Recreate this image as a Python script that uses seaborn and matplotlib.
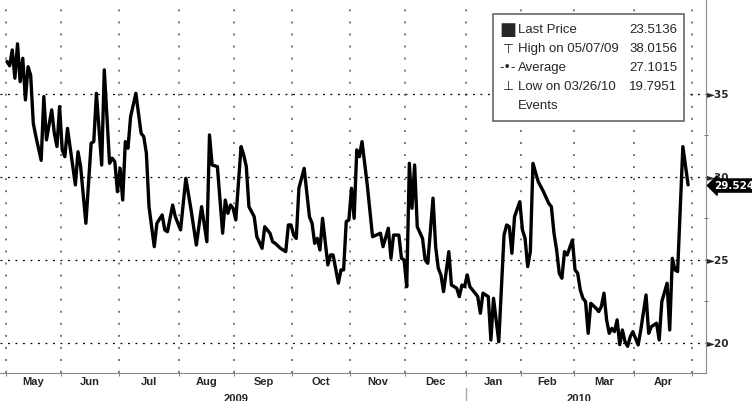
import numpy as np
import matplotlib
matplotlib.use("Agg")
import matplotlib.pyplot as plt
import matplotlib.transforms as mtransforms
from matplotlib.patches import Rectangle
from matplotlib.ticker import FixedLocator, NullFormatter
import pandas as pd
import seaborn as sns

day = [0, 1, 2, 3, 4, 5, 6, 7, 8, 9, 10, 11, 13, 14, 15, 17, 18, 19, 20, 21,
       22, 23, 26, 27, 28, 30, 32, 33, 34, 36, 37, 39, 40, 41, 42, 43, 44, 45,
       46, 47, 49, 51, 52, 53, 54, 56, 57, 59, 60, 61, 63, 64, 66, 68, 70, 72,
       74, 76, 77, 78, 80, 82, 83, 84, 85, 86, 87, 89, 90, 91, 92, 94, 95, 97,
       98, 100, 101, 102, 104, 105, 106, 107, 108, 109, 110, 111, 113, 115,
       116, 117, 118, 119, 120, 122, 123, 124, 126, 127, 128, 129, 130, 131,
       132, 133, 134, 135, 137, 139, 142, 143, 145, 146, 147, 149, 150, 151,
       152, 153, 154, 155, 156, 158, 159, 160, 162, 163, 164, 165, 166, 168,
       169, 171, 172, 173, 174, 175, 176, 178, 179, 180, 181, 183, 184, 185,
       187, 189, 190, 191, 192, 193, 195, 196, 197, 198, 199, 200, 202, 204,
       206, 207, 208, 209, 210, 211, 212, 213, 215, 216, 217, 218, 219, 220,
       221, 222, 224, 225, 226, 227, 228, 229, 230, 231, 232, 233, 234, 235,
       236, 237, 238, 240, 241, 243, 244, 245, 247, 248, 249, 251, 252, 253,
       254, 255, 257, 259]
price = [36.95, 36.70, 37.65, 35.95, 38.02, 35.74, 37.15, 34.64, 36.64, 36.14,
         33.23, 32.43, 31.00, 34.84, 32.23, 34.04, 32.63, 31.83, 34.24, 31.63,
         31.22, 32.93, 29.52, 31.52, 30.62, 27.21, 32.03, 32.13, 35.04, 30.72,
         36.45, 30.82, 31.13, 30.92, 29.11, 30.52, 28.61, 32.13, 31.73, 33.63,
         35.04, 32.63, 32.43, 31.43, 28.21, 25.80, 27.21, 27.71, 26.81, 26.70,
         28.31, 27.61, 26.81, 29.92, 28.01, 25.90, 28.21, 26.10, 32.53, 30.72,
         30.62, 26.61, 28.61, 27.81, 28.31, 28.11, 27.41, 31.83, 31.33, 30.62,
         28.21, 27.61, 26.40, 25.70, 27.00, 26.61, 26.10, 26.00, 25.70, 25.60,
         25.50, 27.11, 27.11, 26.50, 26.30, 29.32, 30.52, 27.61, 27.21, 26.00,
         26.30, 25.60, 27.51, 24.70, 25.30, 25.30, 23.60, 24.40, 24.40, 27.31,
         27.41, 29.32, 27.51, 31.63, 31.22, 32.13, 29.52, 26.40, 26.61, 25.80,
         26.91, 25.10, 26.50, 26.50, 25.10, 25.00, 23.39, 30.82, 28.11, 30.72,
         27.00, 26.30, 25.00, 24.80, 28.72, 25.80, 24.50, 24.10, 23.09, 25.50,
         23.49, 23.30, 22.79, 23.49, 23.39, 24.10, 23.39, 23.00, 22.79, 21.79,
         23.00, 22.79, 20.18, 22.69, 20.08, 26.50, 27.11, 27.00, 25.40, 27.61,
         28.51, 26.81, 26.30, 24.60, 25.50, 30.82, 29.72, 29.11, 28.41, 28.21,
         26.61, 25.60, 24.20, 23.90, 25.50, 25.30, 26.20, 24.40, 24.20, 23.19,
         22.69, 22.49, 20.58, 22.39, 22.09, 21.89, 22.19, 23.00, 21.39, 20.58,
         20.88, 20.68, 21.39, 19.90, 20.78, 20.08, 19.80, 20.38, 20.68, 19.88,
         20.78, 22.89, 20.58, 20.98, 21.19, 20.18, 22.49, 23.60, 20.78, 25.10,
         24.40, 24.30, 31.83, 29.5246]

last_price = 29.5246
legend_rows = [
    ("\u25A0", "Last Price", "23.5136"),
    ("\u22A4", "High on 05/07/09", "38.0156"),
    ("-\u2022-", "Average", "27.1015"),
    ("\u22A5", "Low on 03/26/10", "19.7951"),
    ("", "Events", ""),
]
y_ticks = [20, 25, 30, 35]
y_minor = [22.5, 27.5, 32.5]

df = pd.DataFrame({"day": day, "price": price})

# month boundaries in trading-day units
bdays = pd.bdate_range("2009-05-01", "2010-05-31")
months = bdays.to_period("M")
starts = [i for i in range(len(bdays)) if i == 0 or months[i] != months[i - 1]]
bounds = [s - 0.5 for s in starts][:13]
month_names = [bdays[s].strftime("%b") for s in starts][:12]
mid = [(a + b) / 2 for a, b in zip(bounds[:-1], bounds[1:])]
jan = bounds[8]

sns.set_style("white")
plt.rcParams["font.family"] = ["Liberation Sans", "DejaVu Sans"]

fig = plt.figure(figsize=(7.52, 4.01), dpi=100)
ax = fig.add_axes([0, 28 / 401, 706 / 752, 373 / 401])

sns.lineplot(data=df, x="day", y="price", ax=ax, color="black", lw=2.4)

ax.set_xlim(-2.66, 265.8)
ax.set_ylim(18.19, 40.66)
ax.set_xlabel("")
ax.set_ylabel("")

for s in ["top", "left"]:
    ax.spines[s].set_visible(False)
ax.spines["bottom"].set_color("#8a8a8a")
ax.spines["right"].set_color("#8a8a8a")

# x axis: month boundaries as ticks / grid, month names in between
ax.xaxis.set_major_locator(FixedLocator(bounds))
ax.xaxis.set_major_formatter(NullFormatter())
ax.xaxis.set_minor_locator(FixedLocator(mid))
ax.set_xticklabels(month_names, minor=True, fontsize=8, fontweight="bold")
ax.tick_params(axis="x", which="major", direction="inout", length=5,
               color="#8a8a8a", bottom=True)
ax.tick_params(axis="x", which="minor", length=0, pad=3, bottom=True)

# y axis on the right with arrow labels
ax.yaxis.tick_right()
ax.set_yticks(y_ticks)
ax.set_yticklabels(["\u25BA" + str(t) for t in y_ticks],
                   fontsize=7.5, fontweight="bold", family="DejaVu Sans")
ax.yaxis.set_minor_locator(FixedLocator(y_minor))
ax.tick_params(axis="y", which="major", length=0, pad=1, right=True)
ax.tick_params(axis="y", which="minor", length=3, direction="inout",
               color="#555555", right=True)

ax.grid(axis="y", which="major", color="black", linestyle=(0, (1.5, 4.5)), lw=0.9)
ax.grid(axis="x", which="major", color="#777777", linestyle=(0, (1, 5.2)), lw=1.4)

# year labels under the months (cut by the lower edge, as in the original)
trans = mtransforms.blended_transform_factory(ax.transData, ax.transAxes)
ax.text((bounds[0] + jan) / 2, -0.055, "2009", transform=trans, ha="center",
        va="top", fontsize=8, fontweight="bold")
ax.text((jan + bounds[12]) / 2, -0.055, "2010", transform=trans, ha="center",
        va="top", fontsize=8, fontweight="bold")
ax.plot([jan, jan], [-0.04, -0.08], transform=trans, color="#aaaaaa", lw=1,
        clip_on=False)

# last price tag
ytrans = mtransforms.blended_transform_factory(ax.transAxes, ax.transData)
ax.annotate(f"{last_price:.4f}", xy=(1, last_price), xycoords=ytrans,
            xytext=(6, -0.5), textcoords="offset points", ha="left",
            va="center", color="white", fontsize=7.5, fontweight="bold",
            family="DejaVu Sans", annotation_clip=False,
            bbox=dict(boxstyle="larrow,pad=0.15", fc="black", ec="black"))

# legend box
ax.add_patch(Rectangle((493 / 706, 1 - 121 / 373), 191 / 706, 107 / 373,
                       transform=ax.transAxes, fc="white", ec="#666666",
                       lw=1.2, zorder=5))
row_y = [30, 49, 68, 87, 106]
for (sym, label, val), yy in zip(legend_rows, row_y):
    yf = 1 - yy / 373
    ax.text(508 / 706, yf, sym, transform=ax.transAxes, ha="center",
            va="center", fontsize=13 if sym == "\u25A0" else 9,
            family="DejaVu Sans", zorder=6)
    ax.text(518 / 706, yf, label, transform=ax.transAxes, ha="left",
            va="center", fontsize=9.5, zorder=6)
    ax.text(677 / 706, yf, val, transform=ax.transAxes, ha="right",
            va="center", fontsize=9.5, zorder=6)

fig.savefig("out.png", dpi=100)
